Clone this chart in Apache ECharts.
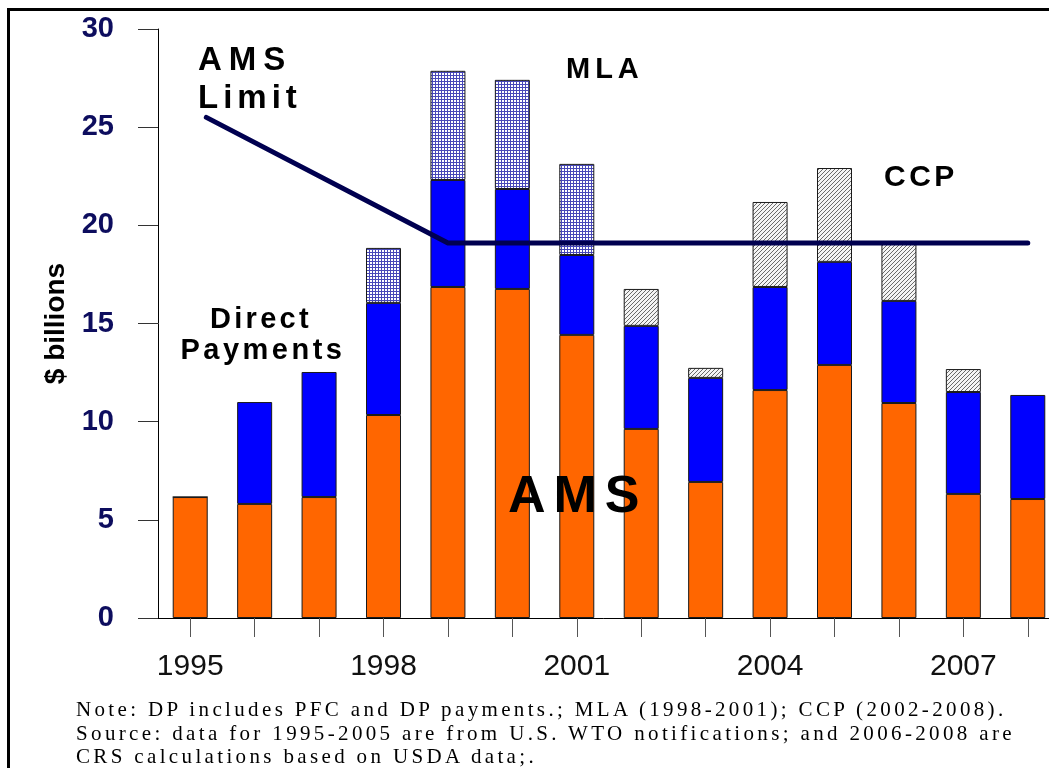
<!DOCTYPE html>
<html>
<head>
<meta charset="utf-8">
<script src="https://cdn.jsdelivr.net/npm/echarts@6/dist/echarts.min.js"></script>
<style>
  html, body { margin:0; padding:0; background:#fff; }
  #wrap { position:relative; width:1049px; height:768px; overflow:hidden; }
  #chart { position:absolute; left:0; top:0; width:1049px; height:768px; }
  .note { position:absolute; white-space:nowrap; line-height:1; color:#000; }
  .sans { font-family:"Liberation Sans", Arial, sans-serif; font-weight:bold; }
  .serif { font-family:"Liberation Serif", "Times New Roman", serif; }
</style>
</head>
<body>
<div id="wrap">
  <div id="chart"></div>
</div>
<script>
const years = ["1995","1996","1997","1998","1999","2000","2001","2002","2003","2004","2005","2006","2007","2008"];
const ams   = [6.16, 5.81, 6.16, 10.34, 16.86, 16.76, 14.42, 9.63, 6.93, 11.61, 12.89, 10.95, 6.32, 6.06];
const dp    = [0, 5.19, 6.37, 5.71, 5.45, 5.09, 4.07, 5.25, 5.30, 5.25, 5.25, 5.20, 5.19, 5.30];
const mla   = [null, null, null, 2.80, 5.56, 5.56, 4.64, null, null, null, null, null, null, null];
const ccp   = [null, null, null, null, null, null, null, 1.88, 0.51, 4.33, 4.78, 2.90, 1.17, null];
const limitYears  = [1995.25, 1999, 2008];
const limitValues = [25.5, 19.1, 19.1];
const yTicks = [0, 5, 10, 15, 20, 25, 30];

const noteLines = [
  "Note: DP includes PFC and DP payments.; MLA (1998-2001); CCP (2002-2008).",
  "Source: data for 1995-2005 are from U.S. WTO notifications; and 2006-2008 are",
  "CRS calculations based on USDA data;."
];

function pattern(size, draw){
  const c = document.createElement("canvas");
  c.width = size; c.height = size;
  const ctx = c.getContext("2d");
  draw(ctx);
  return {image:c, repeat:"repeat"};
}

// fine blue grid for MLA
const gridFill = pattern(3, ctx => {
  ctx.fillStyle = "#ffffff"; ctx.fillRect(0,0,3,3);
  ctx.fillStyle = "#4848b8";
  ctx.fillRect(0,0,3,1);
  ctx.fillRect(0,0,1,3);
});
// diagonal hatch for CCP
const hatchFill = pattern(4, ctx => {
  ctx.fillStyle = "#f4f4f4"; ctx.fillRect(0,0,4,4);
  ctx.fillStyle = "#6a6a6a";
  for(let i=0;i<4;i++) ctx.fillRect(i, 3-i, 1, 1);
});

// text placed by baseline (line-height 1)
function label(text, x, baseline, size, spacing, cls, align){
  const d = document.createElement("div");
  d.className = "note " + cls;
  d.style.fontSize = size + "px";
  d.style.letterSpacing = spacing + "px";
  const k = cls === "serif" ? 0.8375 : 0.8465;
  d.style.top = (baseline - k*size) + "px";
  if(align === "center"){
    d.style.left = (x - 200) + "px";
    d.style.width = "400px";
    d.style.textAlign = "center";
  } else {
    d.style.left = x + "px";
  }
  d.textContent = text;
  document.getElementById("wrap").appendChild(d);
}

const chart = echarts.init(document.getElementById("chart"), null, {renderer:"canvas"});

const barBorder = {borderColor:"#1a1a1a", borderWidth:1};

chart.setOption({
  animation:false,
  backgroundColor:"#ffffff",
  grid:{left:158, top:29, width:902, height:589, containLabel:false, outerBoundsMode:"none"},
  graphic:[{
    type:"rect", silent:true, z:0,
    shape:{x:8.5, y:9.5, width:1200, height:900},
    style:{fill:null, stroke:"#000", lineWidth:3}
  }],
  xAxis:[{
    type:"category", data:years,
    axisLine:{show:true, lineStyle:{color:"#000", width:1}},
    axisTick:{show:true, alignWithLabel:true, interval:0, length:19, lineStyle:{color:"#555"}},
    axisLabel:{interval:2, margin:34, fontSize:30, color:"#111",
      fontFamily:"Liberation Sans, Arial, sans-serif"},
    splitLine:{show:false}
  },{
    type:"value", min:1994.5, max:2008.5, show:false
  }],
  yAxis:{
    type:"value", min:0, max:30, interval:5,
    name:"$ billions", nameLocation:"middle", nameRotate:90, nameGap:88,
    nameTextStyle:{fontSize:28, fontWeight:"bold", color:"#000",
      fontFamily:"Liberation Sans, Arial, sans-serif"},
    axisLine:{show:true, lineStyle:{color:"#000", width:1}},
    axisTick:{show:true, length:20, lineStyle:{color:"#333"}},
    axisLabel:{margin:44, fontSize:29, fontWeight:"bold", color:"#0d0d5e",
      fontFamily:"Liberation Sans, Arial, sans-serif",
      formatter:v => yTicks.includes(v) ? String(v) : ""},
    splitLine:{show:false}
  },
  series:[
    {name:"AMS", type:"bar", stack:"t", barWidth:35, data:ams,
      itemStyle:Object.assign({color:"#ff6600"}, barBorder)},
    {name:"Direct Payments", type:"bar", stack:"t", barWidth:35, data:dp,
      itemStyle:Object.assign({color:"#0000ff"}, barBorder)},
    {name:"MLA", type:"bar", stack:"t", barWidth:35, data:mla,
      itemStyle:Object.assign({color:gridFill}, barBorder)},
    {name:"CCP", type:"bar", stack:"t", barWidth:35, data:ccp,
      itemStyle:Object.assign({color:hatchFill}, barBorder)},
    {name:"AMS Limit", type:"line", xAxisIndex:1, z:5,
      data:limitYears.map((y,i) => [y, limitValues[i]]),
      symbol:"none",
      lineStyle:{color:"#000050", width:5, cap:"round", join:"round"}}
  ]
});

label("AMS", 198, 70, 33, 7, "sans");
label("Limit", 198, 108, 33, 5, "sans");
label("MLA", 566, 79, 29, 5, "sans");
label("CCP", 884, 186, 30, 3.5, "sans");
label("Direct", 261, 329, 29, 3.3, "sans", "center");
label("Payments", 263, 360, 29, 3.5, "sans", "center");
label("AMS", 508, 512, 52, 8, "sans");
noteLines.forEach((t, i) => label(t, 76, 717 + i*23.5, 21, 3.35, "serif"));
</script>
</body>
</html>
